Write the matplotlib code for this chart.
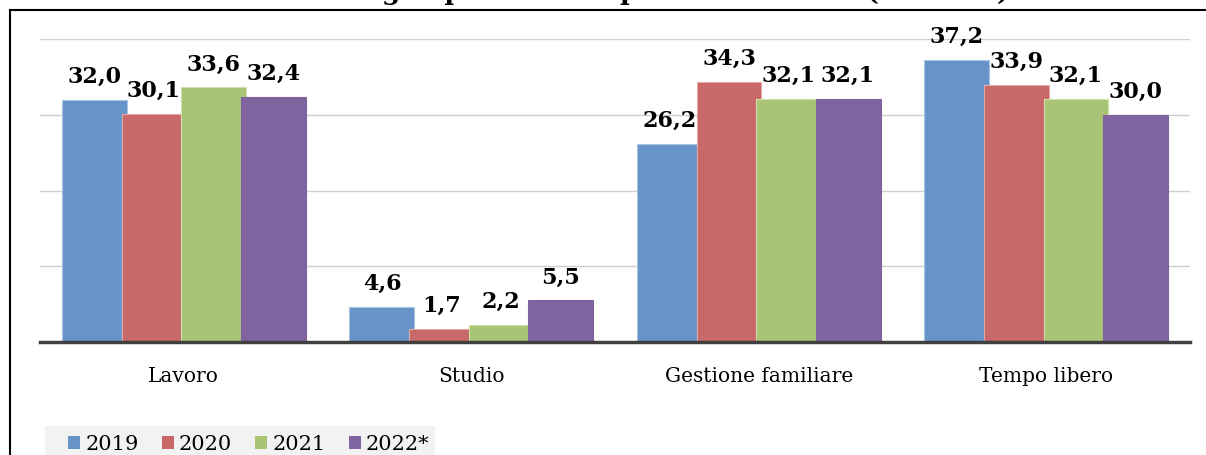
import numpy as np
import matplotlib
matplotlib.use('Agg')
import matplotlib.pyplot as plt
from matplotlib.lines import Line2D
from matplotlib.patches import Patch, Rectangle

# data (percent)
categories = ['Lavoro', 'Studio', 'Gestione familiare', 'Tempo libero']
years = ['2019', '2020', '2021', '2022*']
v2019 = [32.0, 4.6, 26.2, 37.2]
v2020 = [30.1, 1.7, 34.3, 33.9]
v2021 = [33.6, 2.2, 32.1, 32.1]
v2022 = [32.4, 5.5, 32.1, 30.0]
series = [v2019, v2020, v2021, v2022]
colors = ['#6794C8', '#C96868', '#A9C474', '#8064A0']
edges = ['#A9C3E3', '#E3A9A9', '#CFE0AE', '#8064A0']

fig = plt.figure(figsize=(12.06, 4.56), dpi=100)
ax = fig.add_axes([40 / 1206, 113 / 456, 1150 / 1206, 303 / 456])

x = np.arange(len(categories))
step = 0.207
width = 0.226
for i, vals in enumerate(series):
    pos = x + (i - 1.5) * step
    bars = ax.bar(pos, vals, width=width, color=colors[i], edgecolor=edges[i],
                  linewidth=0.8, zorder=2 + i, label=years[i])
    for b, v in zip(bars, vals):
        ax.annotate(f'{v:.1f}'.replace('.', ','), (b.get_x() + b.get_width() / 2, v),
                    xytext=(0, 13), textcoords='offset points', ha='center',
                    va='baseline', fontsize=16, fontweight='bold',
                    family='DejaVu Serif', annotation_clip=False, zorder=10)

ax.set_xlim(-0.5, 3.5)
ax.set_ylim(0, 40)
ax.set_yticks([10, 20, 30, 40])
ax.yaxis.grid(True, color='#cfcfcf', linewidth=1, zorder=0)
ax.tick_params(axis='y', left=False, labelleft=False)
ax.set_xticks(x)
ax.set_xticklabels(categories, family='DejaVu Serif', fontsize=14.5)
ax.tick_params(axis='x', bottom=False, pad=14)
for s in ['top', 'right', 'left']:
    ax.spines[s].set_visible(False)
ax.spines['bottom'].set_color('#404040')
ax.spines['bottom'].set_linewidth(2.5)
ax.spines['bottom'].set_zorder(20)

# title, mostly cut off at the top edge in the reference
fig.text(0.4585, 1.0, 'La distribuzione degli spostamenti per motivazione (valori %)',
         ha='center', va='baseline', fontsize=19, fontweight='bold', family='DejaVu Serif')

# frame around the chart
fig.add_artist(Line2D([10 / 1206, 1.0], [1 - 11 / 456, 1 - 11 / 456], color='black', lw=1.5))
fig.add_artist(Line2D([10 / 1206, 10 / 1206], [0, 1 - 11 / 456], color='black', lw=1.5))

# legend with its light grey band
fig.add_artist(Rectangle((45 / 1206, 0), 390 / 1206, 29 / 456, transform=fig.transFigure,
                         facecolor='#f2f2f2', edgecolor='none', zorder=0))
handles = [Patch(facecolor=c, edgecolor='none') for c in colors]
fig.legend(handles, years, loc='center left', bbox_to_anchor=(68 / 1206, 1 - 445 / 456),
           ncol=4, frameon=False, prop={'family': 'DejaVu Serif', 'size': 15},
           handlelength=0.58, handleheight=0.58, handletextpad=0.25,
           columnspacing=1.1, borderpad=0, borderaxespad=0)

fig.savefig('out.png', dpi=100)
